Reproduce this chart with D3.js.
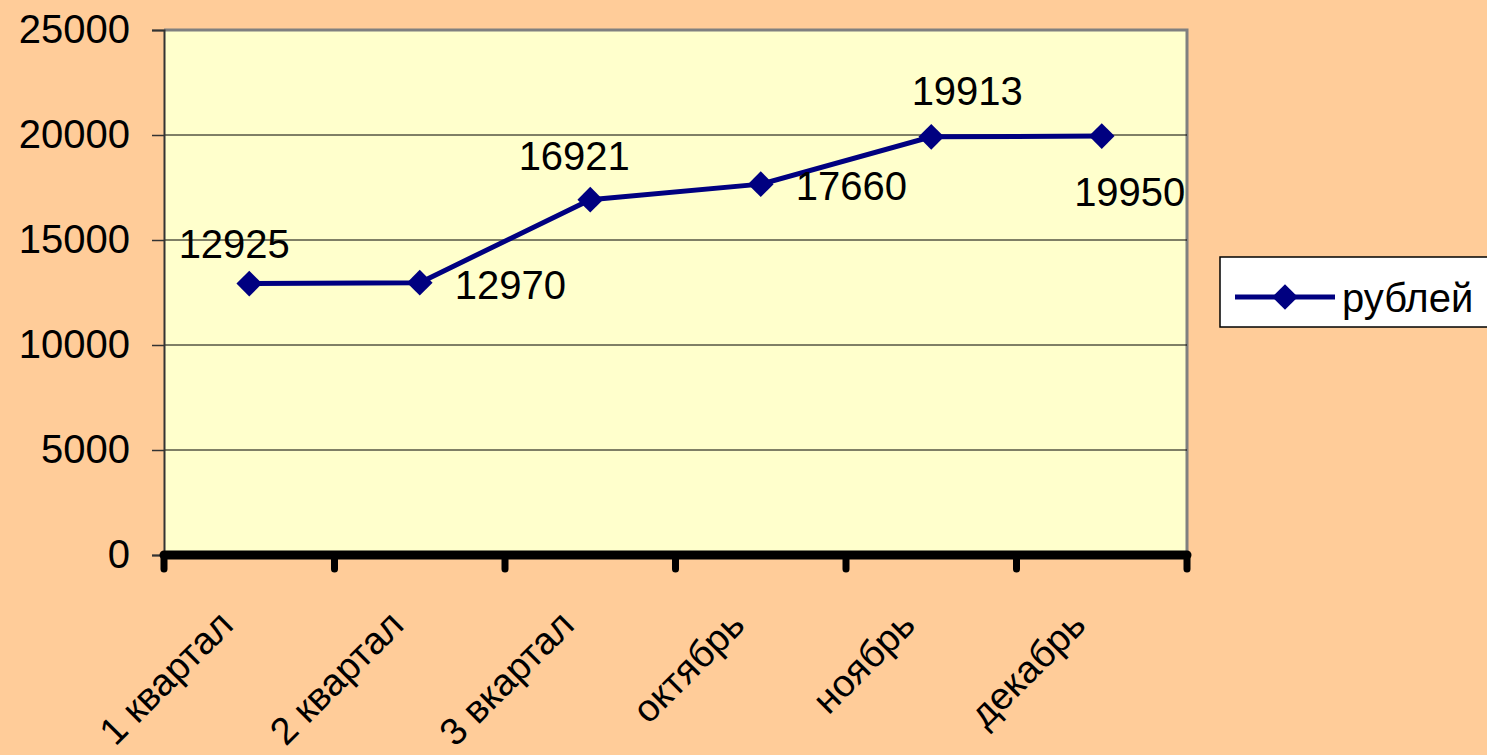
<!DOCTYPE html>
<html>
<head>
<meta charset="utf-8">
<script src="https://cdn.jsdelivr.net/npm/d3@7"></script>
<style>
  body { margin: 0; background: #ffcc99; }
  svg { display: block; font-family: "Liberation Sans", Arial, sans-serif; }
</style>
</head>
<body>
<svg id="chart" width="1487" height="755"></svg>
<script>
// chart data
const categories = ["1 квартал", "2 квартал", "3 вкартал", "октябрь", "ноябрь", "декабрь"];
const values = [12925, 12970, 16921, 17660, 19913, 19950];
const yTicks = [0, 5000, 10000, 15000, 20000, 25000];
const seriesName = "рублей";

// where each data label sits relative to its point (dx, dy, anchor)
const labelPlace = [
  [-15, -26, "middle"],
  [35, 16, "start"],
  [-16, -30, "middle"],
  [35, 16, "start"],
  [36, -32, "middle"],
  [28, 70, "middle"]
];

const margin = { top: 30, right: 300, bottom: 200, left: 164 };
const width = 1187 - margin.left,
  height = 555 - margin.top;

const svg = d3.select("#chart");
const g = svg.append("g")
  .attr("transform", "translate(" + margin.left + "," + margin.top + ")");

const x = d3.scaleBand().domain(categories).range([0, width]);
const y = d3.scaleLinear().domain([0, 25000]).range([height, 0]);

// plot area
g.append("rect")
  .attr("width", width).attr("height", height)
  .attr("fill", "#ffffcc");
g.append("path")
  .attr("d", "M0,0H" + width + "V" + height)
  .attr("fill", "none").attr("stroke", "#808080").attr("stroke-width", 3);

// gridlines
g.append("g")
  .selectAll("line")
  .data(yTicks.filter(d => d > 0 && d < 25000))
  .enter().append("line")
  .attr("x1", 0).attr("x2", width)
  .attr("y1", d => y(d)).attr("y2", d => y(d))
  .attr("stroke", "#000").attr("stroke-width", 1);

// y axis
const yAxis = g.append("g")
  .call(d3.axisLeft(y).tickValues(yTicks).tickFormat(d3.format("d")).tickSize(12).tickPadding(22));
yAxis.select(".domain").attr("stroke", "#333").attr("stroke-width", 2);
yAxis.selectAll(".tick line").attr("stroke", "#333").attr("stroke-width", 1.5);
yAxis.selectAll("text")
  .attr("font-size", 40).attr("fill", "#000")
  .attr("font-family", "Liberation Sans, Arial, sans-serif");

// x axis (thick baseline)
const xEdges = categories.map(c => x(c)).concat([width]);
g.append("line")
  .attr("x1", 0).attr("x2", width)
  .attr("y1", height).attr("y2", height)
  .attr("stroke", "#000").attr("stroke-width", 9).attr("stroke-linecap", "round");
g.append("g").selectAll("line")
  .data(xEdges).enter().append("line")
  .attr("x1", d => d).attr("x2", d => d)
  .attr("y1", height).attr("y2", height + 14)
  .attr("stroke", "#000").attr("stroke-width", 7).attr("stroke-linecap", "round");

// category labels
g.append("g").selectAll("text")
  .data(categories).enter().append("text")
  .attr("transform", d => "translate(" + (x(d) + x.bandwidth() / 2 - 14) + "," + (height + 72) + ") rotate(-45)")
  .attr("text-anchor", "end")
  .attr("font-size", 38)
  .text(d => d);

// line + markers
const cx = (d, i) => x(categories[i]) + x.bandwidth() / 2;
g.append("path")
  .datum(values)
  .attr("fill", "none")
  .attr("stroke", "#000080")
  .attr("stroke-width", 5)
  .attr("d", d3.line().x(cx).y(d => y(d)));

const diamond = d3.symbol().type(d3.symbolDiamond2).size(420);
g.append("g").selectAll("path")
  .data(values).enter().append("path")
  .attr("transform", (d, i) => "translate(" + cx(d, i) + "," + y(d) + ")")
  .attr("d", diamond)
  .attr("fill", "#000080");

// data labels
g.append("g").selectAll("text")
  .data(values).enter().append("text")
  .attr("x", (d, i) => cx(d, i) + labelPlace[i][0])
  .attr("y", (d, i) => y(d) + labelPlace[i][1])
  .attr("text-anchor", (d, i) => labelPlace[i][2])
  .attr("font-size", 40)
  .text(d => d);

// legend
const lg = svg.append("g").attr("transform", "translate(1220,257)");
lg.append("rect")
  .attr("width", 280).attr("height", 70)
  .attr("fill", "#fff").attr("stroke", "#000").attr("stroke-width", 1.5);
lg.append("line")
  .attr("x1", 15).attr("x2", 115).attr("y1", 40).attr("y2", 40)
  .attr("stroke", "#000080").attr("stroke-width", 5);
lg.append("path")
  .attr("transform", "translate(65,40)")
  .attr("d", diamond)
  .attr("fill", "#000080");
lg.append("text")
  .attr("x", 122).attr("y", 55)
  .attr("font-size", 40)
  .text(seriesName);
</script>
</body>
</html>
